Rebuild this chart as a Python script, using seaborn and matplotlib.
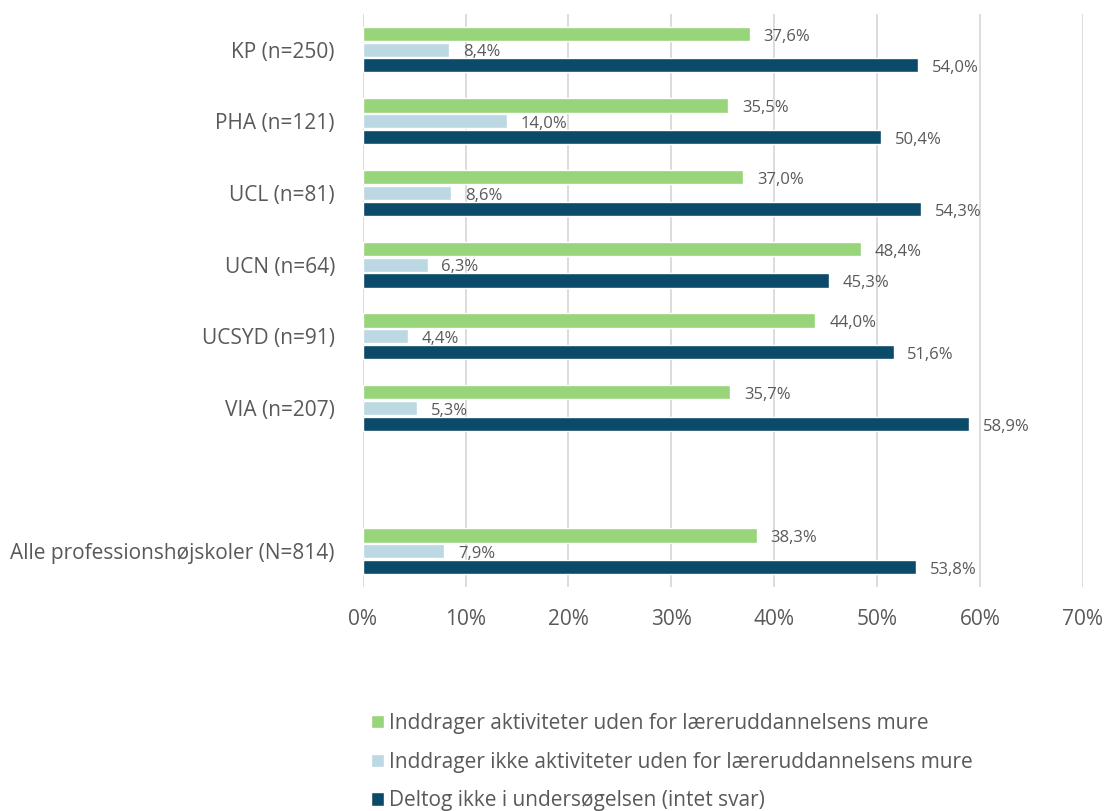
import pandas as pd
import numpy as np
import matplotlib.pyplot as plt
import seaborn as sns

# data (percent)
schools = ['KP (n=250)', 'PHA (n=121)', 'UCL (n=81)', 'UCN (n=64)',
           'UCSYD (n=91)', 'VIA (n=207)', 'Alle professionshøjskoler (N=814)']
inddrager = [37.6, 35.5, 37.0, 48.4, 44.0, 35.7, 38.3]
ikke_inddrager = [8.4, 14.0, 8.6, 6.3, 4.4, 5.3, 7.9]
deltog_ikke = [54.0, 50.4, 54.3, 45.3, 51.6, 58.9, 53.8]

series_names = ['Inddrager aktiviteter uden for læreruddannelsens mure',
                'Inddrager ikke aktiviteter uden for læreruddannelsens mure',
                'Deltog ikke i undersøgelsen (intet svar)']
colors = ['#98d47a', '#bcd8e2', '#0b4a68']

# empty slot between VIA and the total row
order = schools[:6] + [' '] + schools[6:]

rows = []
for name, vals in zip(series_names, [inddrager, ikke_inddrager, deltog_ikke]):
    for s, v in zip(schools, vals):
        rows.append({'Skole': s, 'Serie': name, 'Andel': v})
df = pd.DataFrame(rows)

sns.set_style('white')
plt.rcParams['font.family'] = ['Open Sans', 'DejaVu Sans']

fig, ax = plt.subplots(figsize=(11.06, 8.11), dpi=100)
fig.subplots_adjust(left=0.328, right=0.979, top=0.983, bottom=0.276)

sns.barplot(data=df, y='Skole', x='Andel', hue='Serie', order=order,
            hue_order=series_names, palette=colors, orient='h',
            width=0.66, gap=0.1, saturation=1, ax=ax, legend=True)

# data labels, sitting a little below the bar centre like the original
for cont in ax.containers:
    labels = [f'{b.get_width():.1f}'.replace('.', ',') + '%' for b in cont]
    texts = ax.bar_label(cont, labels=labels, padding=10, fontsize=12,
                         color='#595959')
    for t in texts:
        t.xyann = (10, -2)

ax.set_xlim(0, 70)
ax.set_ylim(len(order) - 0.5, -0.5)
ax.set_xticks(np.arange(0, 71, 10))
ax.set_xticklabels([f'{t}%' for t in range(0, 71, 10)])
ax.xaxis.grid(True, color='#d9d9d9', linewidth=1.3)
ax.set_axisbelow(True)
ax.set_xlabel('')
ax.set_ylabel('')
ax.tick_params(axis='both', labelsize=15, colors='#595959', length=0)
ax.tick_params(axis='x', pad=16)
ax.tick_params(axis='y', pad=20)
for sp in ax.spines.values():
    sp.set_visible(False)

handles, _ = ax.get_legend_handles_labels()
ax.legend(handles, series_names, loc='upper left', bbox_to_anchor=(0.0, -0.205),
          frameon=False, fontsize=15, labelcolor='#595959',
          handlelength=0.6, handleheight=0.6, handletextpad=0.25,
          labelspacing=0.85, borderaxespad=0)

plt.savefig('out.png', dpi=100)
